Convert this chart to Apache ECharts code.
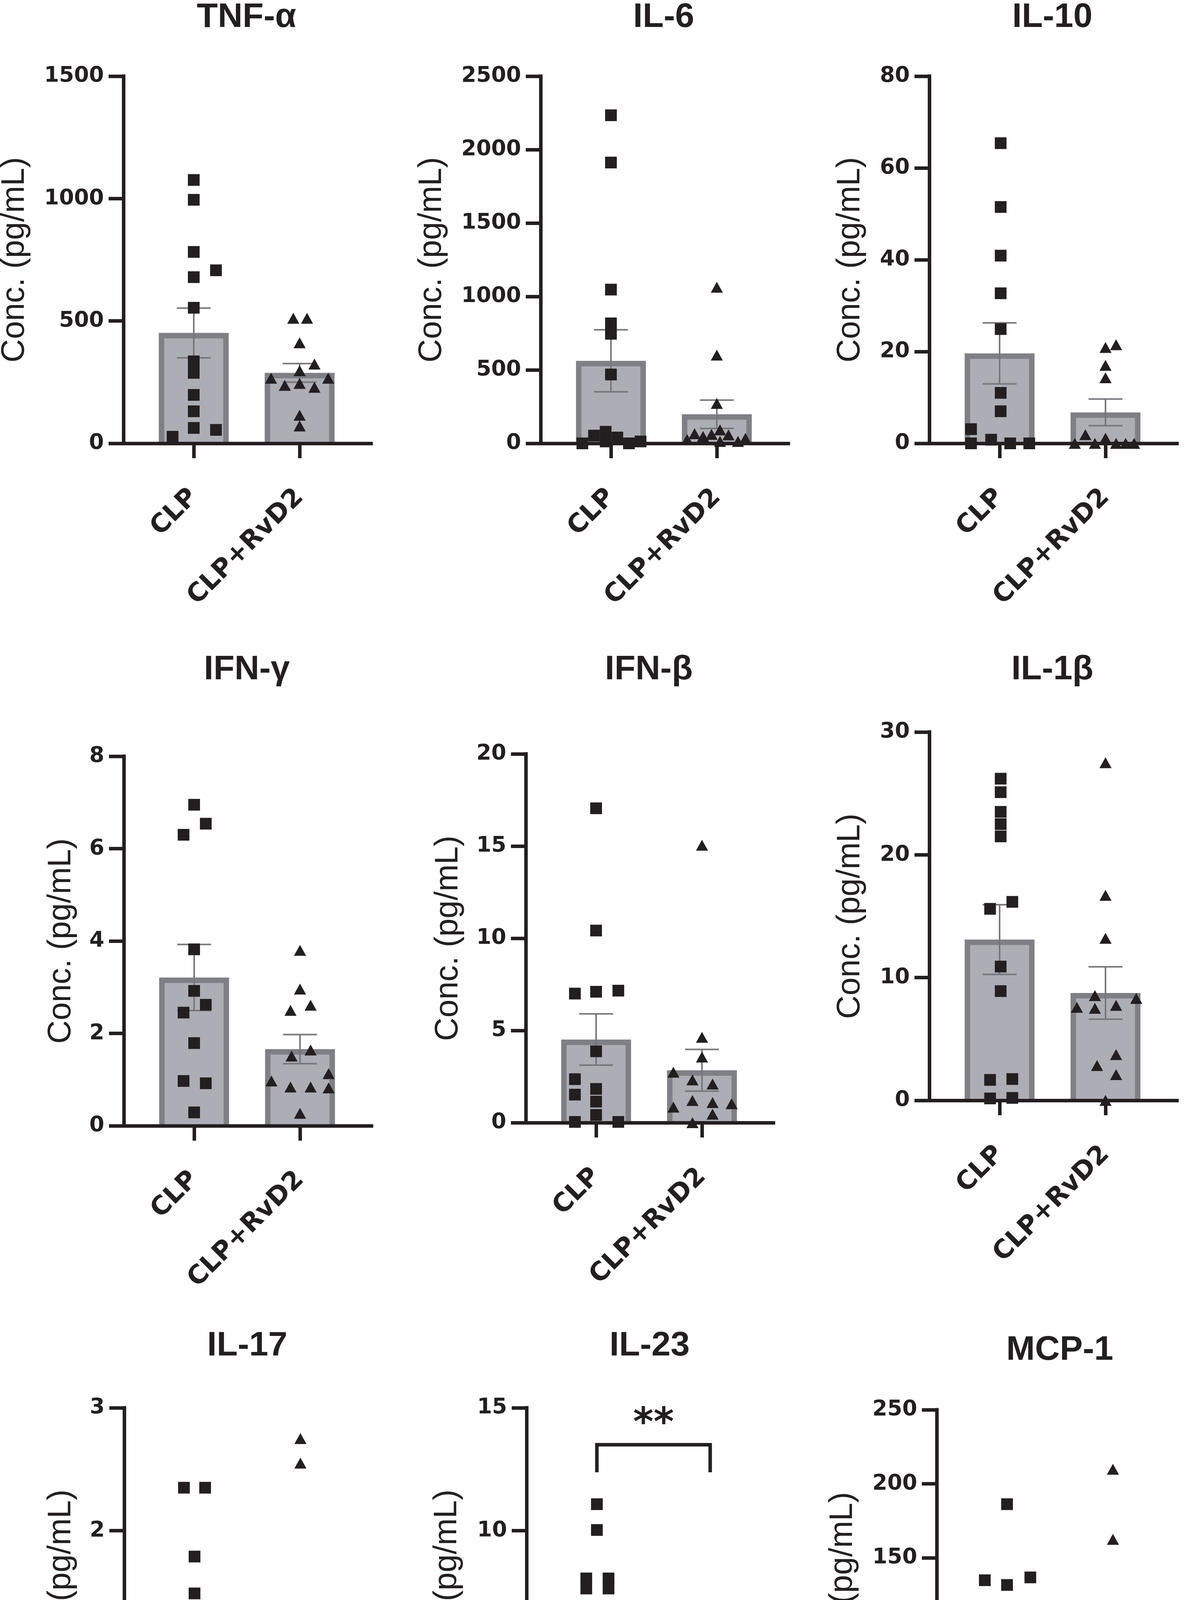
<!DOCTYPE html>
<html>
<head>
<meta charset="utf-8">
<script src="https://cdn.jsdelivr.net/npm/echarts@6/dist/echarts.min.js"></script>
<style>
html,body{margin:0;padding:0;background:#fff;}
#chart{width:3031px;height:4934px;}
</style>
</head>
<body>
<div id="chart"></div>
<script>
// ---------------- DATA ----------------
const groups = ['CLP', 'CLP+RvD2'];
const panelTitles = ['TNF-α', 'IL-6', 'IL-10', 'IFN-γ', 'IFN-β', 'IL-1β', 'IL-17', 'IL-23', 'MCP-1'];
const yAxisName = 'Conc. (pg/mL)';
const yMax  = [1500, 2500, 80, 8, 20, 30, 3, 15, 250];
const yStep = [500, 500, 20, 2, 5, 10, 1, 5, 50];

// bar heights (group means) and SEM: [CLP, CLP+RvD2]
const barMeans = [[451, 288], [562, 198], [19.6, 6.75], [3.21, 1.66], [4.51, 2.84], [13.1, 8.75], [1.04, 0.81], [5.06, 0.89], [75.3, 87.4]];
const barSEM   = [[101.5, 38], [211, 96.5], [6.65, 2.9], [0.715, 0.315], [1.39, 1.13], [2.84, 2.13], [0.25, 0.275], [1.115, 0.445], [15.4, 14.75]];

// individual points (values) and their horizontal jitter (in group units)
const tnfC   = [1076, 995, 782, 707, 679, 554, 335, 288, 198, 131, 63, 55, 27];
const tnfCx  = [0, 0, 0, 0.21, 0, 0, 0, 0, 0, 0, 0, 0.21, -0.2];
const tnfR   = [511, 511, 411, 324, 297, 266, 266, 245, 237, 229, 115, 71];
const tnfRx  = [-0.06, 0.07, 0, 0.14, 0, -0.27, 0.27, 0, -0.14, 0.14, 0, 0];

const il6C   = [2234, 1912, 1047, 817, 746, 469, 0, 53, 79, 13, 40, 0, 13];
const il6Cx  = [0, 0, 0, 0, 0, 0, -0.27, -0.16, -0.05, -0.05, 0.06, 0.17, 0.28];
const il6R   = [1063, 601, 272, 26, 66, 47, 61, 92, 13, 58, 13, 34];
const il6Rx  = [0, 0, 0, -0.28, -0.21, -0.13, -0.05, 0.03, 0.03, 0.11, 0.2, 0.27];

const il10C  = [65.4, 51.5, 40.9, 32.7, 24.9, 11.0, 7.0, 3.1, 0.8, 0, 0, 0];
const il10Cx = [0.01, 0.01, 0.01, 0.01, 0.01, 0.01, 0.01, -0.27, -0.08, -0.27, 0.1, 0.28];
const il10R  = [21.5, 20.9, 17.0, 14.3, 1.9, 1.1, 0, 0, 0, 0, 0];
const il10Rx = [0.1, 0, 0, 0, -0.19, 0, -0.29, -0.1, 0.1, 0.19, 0.27];

const ifngC  = [6.95, 6.54, 6.30, 3.82, 2.92, 2.62, 2.45, 1.79, 0.97, 0.92, 0.29];
const ifngCx = [0, 0.11, -0.1, 0, 0, 0.11, -0.1, 0, -0.1, 0.11, 0];
const ifngR  = [3.80, 2.96, 2.61, 2.50, 1.64, 1.51, 1.13, 0.97, 0.84, 0.84, 0.82, 0.27];
const ifngRx = [0, 0, 0.1, -0.09, 0.1, -0.08, 0.27, -0.27, -0.09, 0.1, 0.27, 0];

const ifnbC  = [17.05, 10.42, 7.0, 7.1, 7.16, 3.87, 2.36, 1.83, 1.52, 1.14, 0.42, 0.04, 0.04];
const ifnbCx = [0, 0, -0.2, 0, 0.21, 0, -0.2, 0, -0.2, 0, 0, -0.2, 0.21];
const ifnbR  = [15.05, 4.63, 3.56, 2.74, 2.32, 2.1, 1.2, 1.09, 1.03, 0.84, 0.46, 0];
const ifnbRx = [0, 0, 0, -0.27, -0.09, 0.1, -0.09, 0.1, 0.28, -0.27, 0.1, -0.09];

const il1bC  = [26.2, 25.1, 23.5, 22.5, 21.5, 16.17, 15.6, 10.9, 8.9, 1.67, 1.74, 0.16, 0.2];
const il1bCx = [0.01, 0.01, 0.01, 0.01, 0.01, 0.12, -0.09, 0.01, 0.01, -0.09, 0.12, -0.09, 0.12];
const il1bR  = [27.5, 16.7, 13.2, 8.53, 8.3, 7.74, 7.58, 7.5, 3.73, 2.84, 2.1, 0];
const il1bRx = [0, 0, 0, -0.1, 0.29, 0.1, -0.27, -0.1, 0.1, -0.08, 0.1, 0];

const il17C  = [2.35, 2.35, 1.79, 1.49, 1.27, 1.17, 1.04, 0.95, 0.11, 0, 0, 0];
const il17Cx = [-0.1, 0.1, 0, 0, 0, 0, 0, 0, 0, -0.2, 0, 0.21];
const il17R  = [2.75, 2.55, 1.27, 0.85, 0.85, 0.57, 0.36, 0.26, 0.13, 0.08, 0.09, 0.06];
const il17Rx = [0, 0, 0, -0.09, 0.1, 0, 0, 0, -0.09, 0.1, 0.28, -0.28];

const il23C  = [11.08, 10.03, 8.06, 8.06, 7.65, 7.65, 6.82, 3.47, 2.69, 0.32, 0.52, 0.03, 0.03];
const il23Cx = [0, 0, -0.1, 0.11, -0.1, 0.11, 0, 0, 0, 0, 0.21, -0.2, 0.21];
const il23R  = [4.16, 2.21, 1.74, 1.21, 0.27, 0, 0, 0, 0, 0];
const il23Rx = [0, 0, 0, 0, -0.17, -0.28, -0.07, 0.05, 0.16, 0.28];

const mcpC   = [186.2, 134.8, 131.6, 136.7, 97.3, 75.0, 53.6, 42.9, 38.3, 29.7, 30.3, 21.4, 12.3];
const mcpCx  = [0, -0.21, 0, 0.22, 0, 0, 0, 0.22, 0, -0.1, 0.1, 0, 0];
const mcpR   = [209.8, 162.4, 109.3, 97.3, 82.5, 79.0, 61.6, 57.1, 52.5, 50.4, 50.9, 37.0];
const mcpRx  = [0, 0, 0, 0, -0.1, 0.12, -0.2, 0, -0.2, 0, 0.2, 0];

const clpPoints  = [tnfC, il6C, il10C, ifngC, ifnbC, il1bC, il17C, il23C, mcpC];
const clpJitter  = [tnfCx, il6Cx, il10Cx, ifngCx, ifnbCx, il1bCx, il17Cx, il23Cx, mcpCx];
const rvdPoints  = [tnfR, il6R, il10R, ifngR, ifnbR, il1bR, il17R, il23R, mcpR];
const rvdJitter  = [tnfRx, il6Rx, il10Rx, ifngRx, ifnbRx, il1bRx, il17Rx, il23Rx, mcpRx];

// significance bracket (IL-23 panel)
const sigPanel = 7;
const sigX = [0, 1.07];
const sigBarY = 13.5;
const sigLegY = 12.38;
const sigStarY = 14.3;
const sigText = '**';

// ---------------- LAYOUT / STYLE ----------------
const gridLeft   = [316, 1384, 2379, 317, 1346, 2379, 318, 1348, 2398];
const gridTop    = [195, 195, 195, 1936, 1930, 1874, 3604, 3604, 3609];
const gridHeight = [940, 940, 940, 946, 944, 943, 944, 944, 947];
const titleY     = [45, 45, 45, 1715, 1715, 1715, 3446, 3446, 3457];
const nameGaps   = [236, 236, 160, 118, 156, 160, 119, 161, 198];
const GRID_W = 634;
const X_MIN = -0.664, X_MAX = 1.675;
const BAR_W = 0.66;       // in group units
const CAP_W = 0.32;
const INK = '#231f20';
const BAR_EDGE = '#7f8085';
const BAR_FILL = '#adaeb5';
const ERR_COL = '#76777b';
const BORDER = 14;

const chart = echarts.init(document.getElementById('chart'), null, {renderer: 'canvas', devicePixelRatio: 1});

const grids = [], xAxes = [], yAxes = [], series = [], graphics = [];

for (let i = 0; i < 9; i++) {
  grids.push({left: gridLeft[i], top: gridTop[i], width: GRID_W, height: gridHeight[i], containLabel: false, outerBoundsMode: 'none'});
  xAxes.push({
    gridIndex: i, type: 'value', min: X_MIN, max: X_MAX, z: 10,
    axisLine: {show: true, onZero: false, lineStyle: {color: INK, width: 9, cap: 'square'}},
    axisTick: {show: true, customValues: [0, 1], length: 38, lineStyle: {color: INK, width: 9}},
    axisLabel: {show: true, customValues: [0, 1], formatter: v => groups[Math.round(v)] || '', rotate: 45, margin: 128,
      fontFamily: 'DejaVu Sans', fontWeight: 'bold', fontSize: 66, color: INK},
    splitLine: {show: false}
  });
  yAxes.push({
    gridIndex: i, type: 'value', min: 0, max: yMax[i], interval: yStep[i], z: 10,
    axisLine: {show: true, onZero: false, lineStyle: {color: INK, width: 9, cap: 'square'}},
    axisTick: {show: true, length: 38, lineStyle: {color: INK, width: 9}},
    axisLabel: {margin: 50, formatter: v => String(v), fontFamily: 'DejaVu Sans', fontWeight: 'bold', fontSize: 55, color: INK},
    splitLine: {show: false},
    name: yAxisName, nameLocation: 'middle', nameGap: nameGaps[i],
    nameTextStyle: {fontFamily: 'Liberation Sans', fontSize: 83, color: INK}
  });

  // bars
  series.push({
    type: 'custom', xAxisIndex: i, yAxisIndex: i, z: 2, silent: true,
    data: barMeans[i].map((m, g) => [g, m]),
    renderItem: function (params, api) {
      const x = api.value(0), y = api.value(1);
      const p0 = api.coord([x, 0]), p1 = api.coord([x, y]);
      const w = api.size([BAR_W, 0])[0];
      const h = p0[1] - p1[1];
      return {type: 'group', children: [
        {type: 'rect', shape: {x: p0[0] - w / 2, y: p1[1], width: w, height: h}, style: {fill: BAR_EDGE}},
        {type: 'rect', shape: {x: p0[0] - w / 2 + BORDER, y: p1[1] + BORDER, width: w - 2 * BORDER, height: Math.max(0, h - BORDER)}, style: {fill: BAR_FILL}}
      ]};
    }
  });
  // error bars
  series.push({
    type: 'custom', xAxisIndex: i, yAxisIndex: i, z: 3, silent: true,
    data: barMeans[i].map((m, g) => [g, m - barSEM[i][g], m + barSEM[i][g]]),
    renderItem: function (params, api) {
      const x = api.value(0);
      const lo = api.coord([x, api.value(1)]), hi = api.coord([x, api.value(2)]);
      const cw = api.size([CAP_W, 0])[0] / 2;
      const st = {stroke: ERR_COL, lineWidth: 4};
      return {type: 'group', children: [
        {type: 'line', shape: {x1: lo[0], y1: lo[1], x2: hi[0], y2: hi[1]}, style: st},
        {type: 'line', shape: {x1: hi[0] - cw, y1: hi[1], x2: hi[0] + cw, y2: hi[1]}, style: st},
        {type: 'line', shape: {x1: lo[0] - cw, y1: lo[1], x2: lo[0] + cw, y2: lo[1]}, style: st}
      ]};
    }
  });
  // points
  series.push({
    type: 'scatter', xAxisIndex: i, yAxisIndex: i, z: 4, silent: true, clip: false,
    symbol: 'rect', symbolSize: 30, itemStyle: {color: INK, opacity: 1},
    data: clpPoints[i].map((v, k) => [0 + clpJitter[i][k], v])
  });
  series.push({
    type: 'scatter', xAxisIndex: i, yAxisIndex: i, z: 4, silent: true, clip: false,
    symbol: 'triangle', symbolSize: [31, 28], itemStyle: {color: INK, opacity: 1},
    data: rvdPoints[i].map((v, k) => [1 + rvdJitter[i][k], v])
  });

  graphics.push({
    type: 'text', x: gridLeft[i] + 315, y: titleY[i], z: 20,
    style: {text: panelTitles[i], fontFamily: 'Liberation Sans', fontWeight: 'bold', fontSize: 88, fill: INK, align: 'center', verticalAlign: 'middle'}
  });
}

// significance bracket
series.push({
  type: 'custom', xAxisIndex: sigPanel, yAxisIndex: sigPanel, z: 5, silent: true, clip: false,
  data: [[sigX[0], sigX[1], sigLegY, sigBarY, sigStarY]],
  renderItem: function (params, api) {
    const a = api.coord([api.value(0), api.value(2)]);
    const b = api.coord([api.value(0), api.value(3)]);
    const c = api.coord([api.value(1), api.value(3)]);
    const d = api.coord([api.value(1), api.value(2)]);
    const s = api.coord([(api.value(0) + api.value(1)) / 2, api.value(4)]);
    return {type: 'group', children: [
      {type: 'polyline', shape: {points: [a, b, c, d]}, style: {stroke: INK, lineWidth: 9, fill: null, lineJoin: 'miter'}},
      {type: 'text', x: s[0], y: s[1], style: {text: sigText, fontFamily: 'DejaVu Sans', fontWeight: 'bold', fontSize: 100, fill: INK, align: 'center', verticalAlign: 'middle'}}
    ]};
  }
});

chart.setOption({
  backgroundColor: '#ffffff',
  animation: false,
  grid: grids,
  xAxis: xAxes,
  yAxis: yAxes,
  series: series,
  graphic: graphics
});
</script>
</body>
</html>
